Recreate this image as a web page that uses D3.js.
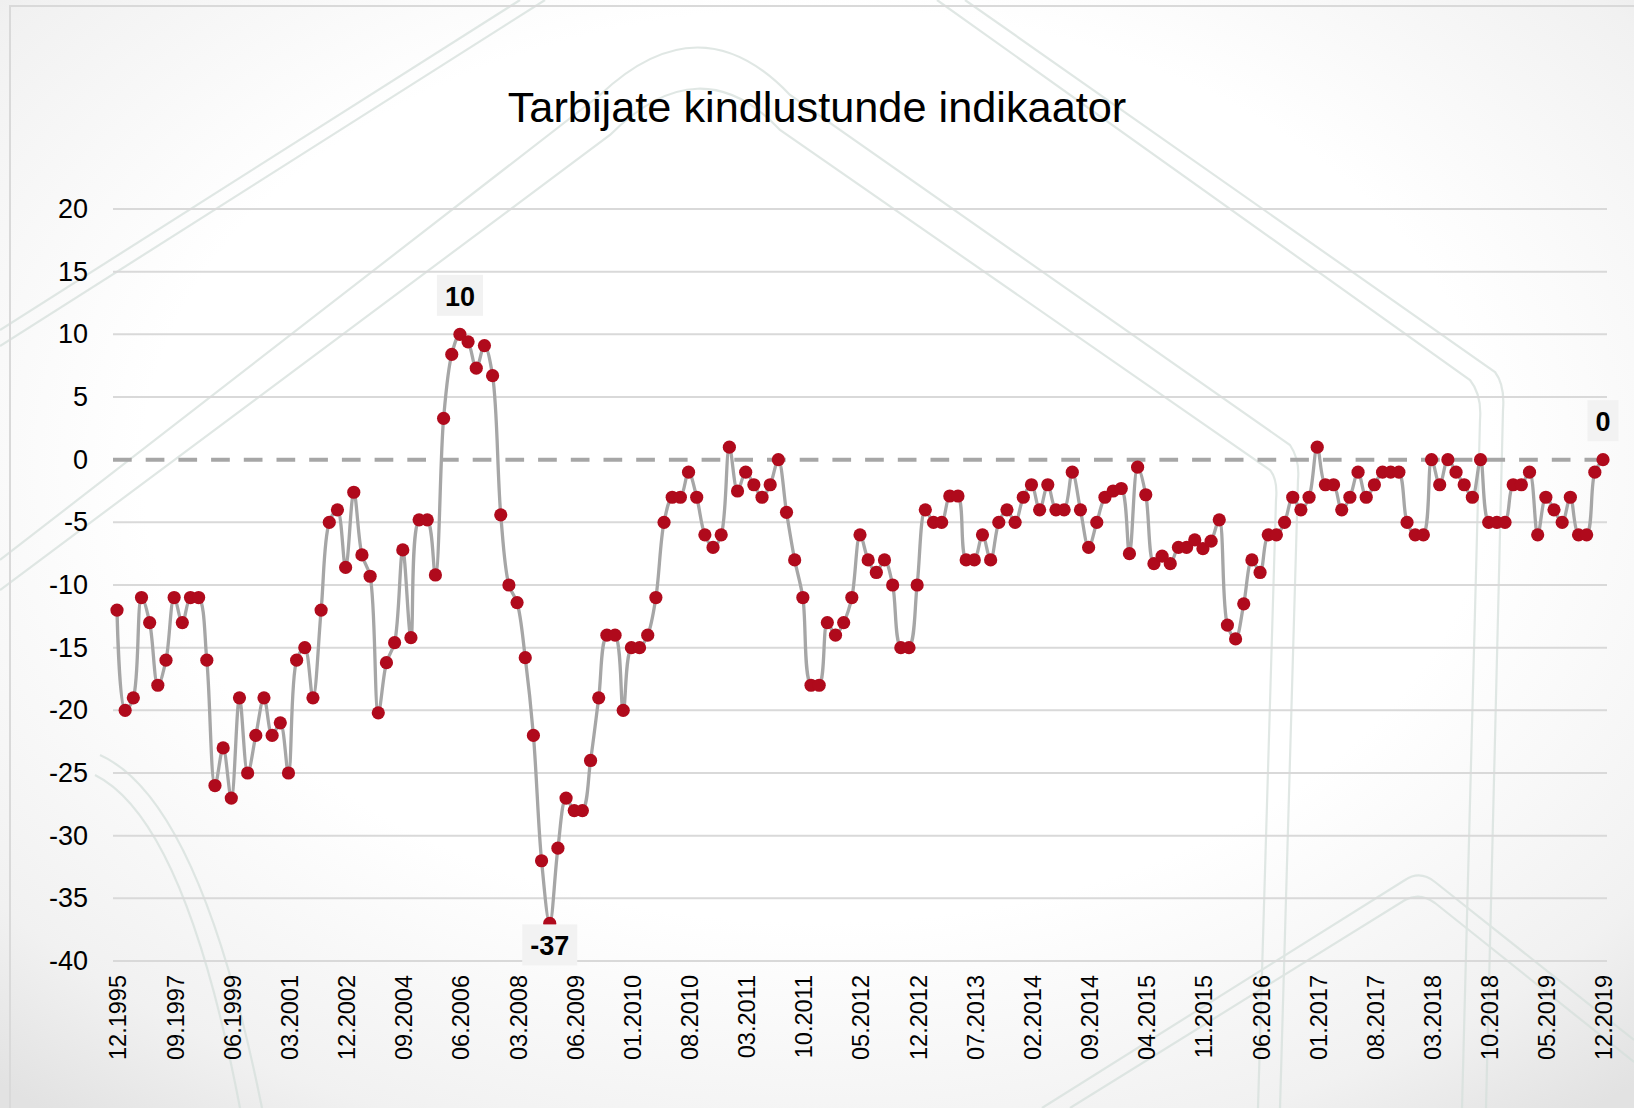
<!DOCTYPE html>
<html>
<head>
<meta charset="utf-8">
<script src="https://cdn.jsdelivr.net/npm/d3@7"></script>
<style>
body { margin: 0; background: #fff; }
svg { display: block; }
</style>
</head>
<body>
<script>
// Tarbijate kindlustunde indikaator: quarterly 12.1995-03.2009, monthly 04.2009-12.2019
var values = [
    -12, -20, -19, -11, -13, -18, -16, -11, -13, -11, -11, -16, -26, -23, -27, -19,
    -25, -22, -19, -22, -21, -25, -16, -15, -19, -12, -5, -4, -8.6, -2.6, -7.6, -9.3,
    -20.2, -16.2, -14.6, -7.2, -14.2, -4.8, -4.8, -9.2, 3.3, 8.4, 10, 9.4, 7.3, 9.1,
    6.7, -4.4, -10, -11.4, -15.8, -22, -32, -37,
    -31, -27, -28, -28, -24, -19, -14, -14, -20, -15, -15, -14, -11, -5, -3, -3,
    -1, -3, -6, -7, -6, 1, -2.5, -1, -2, -3, -2, 0, -4.2, -8, -11, -18,
    -18, -13, -14, -13, -11, -6, -8, -9, -8, -10, -15, -15, -10, -4, -5, -5,
    -2.9, -2.9, -8, -8, -6, -8, -5, -4, -5, -3, -2, -4, -2, -4, -4, -1,
    -4, -7, -5, -3, -2.5, -2.3, -7.5, -0.6, -2.8, -8.3, -7.7, -8.3, -7, -7, -6.4, -7.1,
    -6.5, -4.8, -13.2, -14.3, -11.5, -8, -9, -6, -6, -5, -3, -4, -3, 1, -2, -2,
    -4, -3, -1, -3, -2, -1, -1, -1, -5, -6, -6, 0, -2, 0, -1, -2,
    -3, 0, -5, -5, -5, -2, -2, -1, -6, -3, -4, -5, -3, -6, -6, -1, 0
];

var tickLabels = ["12.1995", "09.1997", "06.1999", "03.2001", "12.2002", "09.2004", "06.2006",
    "03.2008", "06.2009", "01.2010", "08.2010", "03.2011", "10.2011", "05.2012", "12.2012",
    "07.2013", "02.2014", "09.2014", "04.2015", "11.2015", "06.2016", "01.2017", "08.2017",
    "03.2018", "10.2018", "05.2019", "12.2019"];

var yTicks = [-40, -35, -30, -25, -20, -15, -10, -5, 0, 5, 10, 15, 20];
var labelledPoints = ["06.2006", "03.2009", "12.2019"];

var title = "Tarbijate kindlustunde indikaator";

// category labels (mm.yyyy)
function pad(m) { return (m < 10 ? "0" : "") + m; }
var categories = [];
for (var yr = 1995; yr <= 2009; yr++) {
    [3, 6, 9, 12].forEach(function (m) {
        if ((yr === 1995 && m < 12) || (yr === 2009 && m > 3)) return;
        categories.push(pad(m) + "." + yr);
    });
}
for (var yr2 = 2009; yr2 <= 2019; yr2++) {
    for (var m2 = 1; m2 <= 12; m2++) {
        if (yr2 === 2009 && m2 < 4) continue;
        categories.push(pad(m2) + "." + yr2);
    }
}

var data = categories.map(function (c, i) { return { cat: c, value: values[i] }; });

var W = 1634, H = 1108;
var font = "'Liberation Sans', Arial, sans-serif";
var fmt = function (d) { return String(Math.round(d)); };   // plain hyphen minus

var svg = d3.select("body").append("svg").attr("width", W).attr("height", H);
var defs = svg.append("defs");

// background vignette
var grad = defs.append("radialGradient").attr("id", "bg")
    .attr("cx", "50%").attr("cy", "42%").attr("r", "75%");
grad.append("stop").attr("offset", "55%").attr("stop-color", "#ffffff");
grad.append("stop").attr("offset", "85%").attr("stop-color", "#f1f1f1");
grad.append("stop").attr("offset", "100%").attr("stop-color", "#e2e2e2");
svg.append("rect").attr("width", W).attr("height", H).attr("fill", "url(#bg)");

// faint decorative lines
var deco = svg.append("g").attr("fill", "none").attr("stroke", "#d6e0dc")
    .attr("stroke-width", 2.2).attr("opacity", 0.75);
var decoPaths = [
    "M0,330 L520,0", "M0,346 L545,0",
    "M0,560 L600,95 Q700,0 790,95 L1290,445 Q1300,460 1298,480 L1280,1108",
    "M0,590 L610,135 Q700,45 780,130 L1270,470 Q1278,480 1276,500 L1258,1108",
    "M937,0 L1470,380 Q1482,395 1480,420 L1462,1108",
    "M965,0 L1495,372 Q1505,385 1503,410 L1486,1108",
    "M100,755 Q200,800 262,1108", "M95,775 Q185,820 240,1108",
    "M1042,1108 L1405,880 Q1420,870 1435,882 L1634,1040",
    "M1070,1108 L1405,900 Q1420,892 1435,903 L1634,1062"
];
deco.selectAll("path").data(decoPaths).enter().append("path").attr("d", function (d) { return d; });

// chart border
svg.append("rect").attr("x", 10).attr("y", 6).attr("width", W).attr("height", H)
    .attr("fill", "none").attr("stroke", "#d9d9d9").attr("stroke-width", 2);

var x = d3.scalePoint().domain(categories).range([117, 1603]);
var y = d3.scaleLinear().domain([-40, 20]).range([961, 209]);
var gridLeft = 113, gridRight = 1607;

// title
svg.append("text")
    .attr("x", 817).attr("y", 122)
    .attr("text-anchor", "middle")
    .attr("font-family", font).attr("font-size", "43.3px").attr("fill", "#000")
    .text(title);

// gridlines
svg.append("g").selectAll("line")
    .data(yTicks.filter(function (d) { return d !== 0; }))
    .enter().append("line")
    .attr("x1", gridLeft).attr("x2", gridRight)
    .attr("y1", function (d) { return y(d); }).attr("y2", function (d) { return y(d); })
    .attr("stroke", "#d9d9d9").attr("stroke-width", 2);

// zero line, dashed
svg.append("line")
    .attr("x1", gridLeft).attr("x2", gridRight)
    .attr("y1", y(0)).attr("y2", y(0))
    .attr("stroke", "#a6a6a6").attr("stroke-width", 4)
    .attr("stroke-dasharray", "18.7,14");

// y axis
var yAxis = d3.axisLeft(y).tickValues(yTicks).tickSize(0).tickPadding(25).tickFormat(fmt);
var gy = svg.append("g").attr("transform", "translate(" + gridLeft + ",0)").call(yAxis);
gy.select(".domain").remove();
gy.selectAll("text").attr("font-family", font).attr("font-size", "27px").attr("fill", "#000");

// x axis
var xAxis = d3.axisBottom(x).tickValues(tickLabels).tickSize(0);
var gx = svg.append("g").attr("transform", "translate(0," + y(-40) + ")").call(xAxis);
gx.select(".domain").remove();
gx.selectAll("text")
    .attr("font-family", font).attr("font-size", "23.5px").attr("fill", "#000")
    .attr("transform", "rotate(-90)")
    .attr("text-anchor", "end")
    .attr("x", -14).attr("y", 0).attr("dy", "0.38em");

// line
var line = d3.line()
    .x(function (d) { return x(d.cat); })
    .y(function (d) { return y(d.value); })
    .curve(d3.curveCatmullRom.alpha(0.5));

svg.append("path").datum(data)
    .attr("d", line)
    .attr("fill", "none")
    .attr("stroke", "#a6a6a6")
    .attr("stroke-width", 3.3);

// markers
svg.append("g").selectAll("circle")
    .data(data).enter().append("circle")
    .attr("cx", function (d) { return x(d.cat); })
    .attr("cy", function (d) { return y(d.value); })
    .attr("r", 6.6)
    .attr("fill", "#b00a1c");

// data labels
var minVal = d3.min(values);
var lab = svg.append("g").selectAll("g")
    .data(data.filter(function (d) { return labelledPoints.indexOf(d.cat) >= 0; }))
    .enter().append("g");

lab.each(function (d) {
    var g = d3.select(this);
    var px = x(d.cat), py = y(d.value);
    var below = d.value === minVal;
    var t = g.append("text")
        .attr("font-family", font).attr("font-size", "27px").attr("font-weight", "bold")
        .attr("text-anchor", "middle").attr("fill", "#000")
        .text(fmt(d.value));
    var bw = t.node().getComputedTextLength() + 16, bh = 41;
    var top = below ? py + 1 : py - 18.5 - bh;
    var cx = px;
    if (cx + bw / 2 > W - 14) cx = W - 14 - bw / 2;
    g.insert("rect", "text")
        .attr("x", cx - bw / 2).attr("y", top).attr("width", bw).attr("height", bh)
        .attr("fill", "#f2f2f2");
    t.attr("x", cx).attr("y", top + bh - 10);
});
</script>
</body>
</html>
